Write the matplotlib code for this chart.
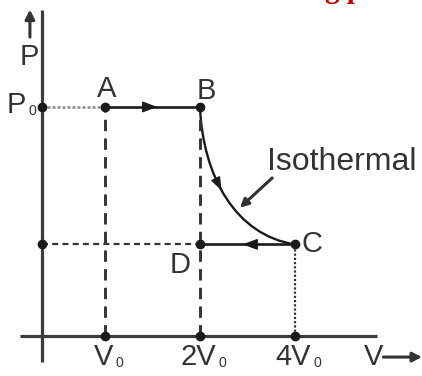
import numpy as np
import matplotlib
matplotlib.use("Agg")
import matplotlib.pyplot as plt
from matplotlib.path import Path
from matplotlib.patches import PathPatch, FancyArrowPatch

plt.rcParams["font.family"] = ["Liberation Sans", "DejaVu Sans"]

# diagram is not drawn to scale: volumes sit on equally spaced positions
v_labels = ["V", "2V", "4V"]
v_pos = [1, 2, 3]
v_axis = 0.34          # position of the P axis

# pressures as drawn (P0 = 1, lower level)
p_top = 1.0
p_low = 0.4

point_names = ["A", "B", "C", "D"]
point_v = [1, 2, 3, 2]
point_p = [p_top, p_top, p_low, p_low]

INK = "#333333"
DOT = "#1a1a1a"


def head(ax, start, end, lw=1.0, hl=9, hw=3.4):
    arr = FancyArrowPatch(start, end, arrowstyle=f"-|>,head_length={hl},head_width={hw}",
                          mutation_scale=1, color=DOT, lw=lw, shrinkA=0, shrinkB=0)
    ax.add_patch(arr)


def label_sub(ax, x, y, main, sub, size=21, ha="center"):
    t = ax.text(x, y, main, fontsize=size, color=INK, ha=ha, va="center")
    ax.annotate(sub, xy=(1, 0), xycoords=t, xytext=(2.0, 0.5), textcoords="offset points",
                fontsize=size * 0.48, color=INK, ha="left", va="bottom")
    return t


def main():
    fig = plt.figure(figsize=(4.22, 3.76), dpi=100)
    ax = fig.add_axes([0, 0, 1, 1])
    ax.set_xlim(-0.105, 4.337)
    ax.set_ylim(-0.1747, 1.467)
    ax.axis("off")

    A, B, C, D = [(v, p) for v, p in zip(point_v, point_p)]

    # axes
    ax.plot([v_axis, v_axis], [-0.114, 1.424], color="#3c3c3c", lw=2.3, solid_capstyle="butt")
    ax.plot([0.105, 3.86], [0, 0], color="#3c3c3c", lw=2.3, solid_capstyle="butt")

    # guide lines
    ax.plot([v_axis, A[0]], [p_top, p_top], color="#8a8a8a", lw=1.8, ls=(0, (1.2, 0.8)))
    ax.plot([A[0], A[0]], [0, p_top], color=INK, lw=2.1, ls=(0, (3.9, 2.5)))
    ax.plot([B[0], B[0]], [0, p_top], color=INK, lw=2.1, ls=(0, (3.9, 2.5)))
    ax.plot([v_axis, D[0]], [p_low, p_low], color=INK, lw=1.6, ls=(0, (2.7, 1.9)))
    ax.plot([C[0], C[0]], [0, p_low], color=INK, lw=1.6, ls=(0, (1.0, 0.9)))

    # process lines
    ax.plot([A[0], B[0]], [p_top, p_top], color=DOT, lw=1.9)
    ax.plot([C[0], D[0]], [p_low, p_low], color=DOT, lw=1.9)
    head(ax, (1.40, p_top), (1.55, p_top))
    head(ax, (2.60, p_low), (2.45, p_low))

    # isothermal B -> C
    c1 = (B[0] + 0.03, p_low + 0.30)
    c2 = (B[0] + 0.37, p_low + 0.04)
    verts = [B, c1, c2, C]
    path = Path(verts, [Path.MOVETO, Path.CURVE4, Path.CURVE4, Path.CURVE4])
    ax.add_patch(PathPatch(path, fill=False, color=DOT, lw=1.7))
    pts = np.array(verts)

    def bez(t):
        w = np.array([(1 - t) ** 3, 3 * (1 - t) ** 2 * t, 3 * (1 - t) * t ** 2, t ** 3])
        return tuple(w @ pts)
    head(ax, bez(0.38), bez(0.45), hl=8, hw=3.0)

    # dots
    ax.plot(point_v, point_p, "o", color=DOT, ms=6)
    ax.plot([v_axis, v_axis], [p_top, p_low], "o", color=DOT, ms=6)
    ax.plot(v_pos, [0] * len(v_pos), "o", color=DOT, ms=6)

    # point labels
    offs = {"A": (0.02, 0.08), "B": (0.07, 0.07), "C": (0.18, 0.0), "D": (-0.21, -0.09)}
    for n, v, p in zip(point_names, point_v, point_p):
        dx, dy = offs[n]
        ax.text(v + dx, p + dy, n, fontsize=21, color=INK, ha="center", va="center")

    # tick labels
    for lab, v in zip(v_labels, v_pos):
        label_sub(ax, v - 0.02, -0.09, lab, "0")
    label_sub(ax, -0.04, p_top + 0.01, "P", "0", ha="left")

    # axis names
    ax.text(v_axis - 0.14, 1.22, "P", fontsize=21, color=INK, ha="center", va="center")
    ax.annotate("", xy=(0.21, 1.425), xytext=(0.21, 1.305),
                arrowprops=dict(arrowstyle="-|>,head_length=0.55,head_width=0.28",
                                color=INK, lw=2.2, shrinkA=0, shrinkB=0))
    ax.text(3.83, -0.092, "V", fontsize=21, color=INK, ha="center", va="center")
    ax.annotate("", xy=(4.337, -0.092), xytext=(3.93, -0.092),
                arrowprops=dict(arrowstyle="-|>,head_length=0.55,head_width=0.28",
                                color=INK, lw=2.2, shrinkA=0, shrinkB=0))

    # isothermal note
    ax.text(2.71, 0.76, "Isothermal", fontsize=23, color=INK, ha="left", va="center")
    ax.annotate("", xy=(2.42, 0.56), xytext=(2.76, 0.69),
                arrowprops=dict(arrowstyle="-|>,head_length=0.5,head_width=0.25",
                                color=INK, lw=2.2, shrinkA=0, shrinkB=0))

    # clipped heading above the figure (only descenders show)
    fig.text(326 / 422, 1 + 1.5 / 376, "for the followin", fontsize=21, color="#c00000",
             family="Liberation Serif", weight="bold", ha="right", va="baseline")
    fig.text(325 / 422, 1 + 1.5 / 376, "g process", fontsize=21, color="#c00000",
             family="Liberation Serif", weight="bold", ha="left", va="baseline")

    fig.savefig("out.png", dpi=100)


if __name__ == "__main__":
    main()
